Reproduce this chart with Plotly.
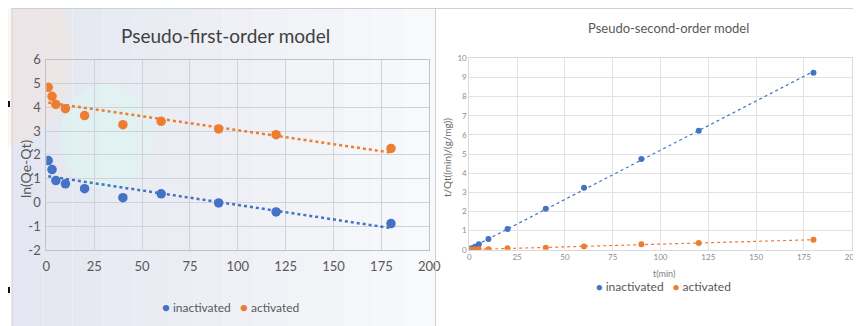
import numpy as np
import plotly.graph_objects as go

# ---- data ----
t_min = [1, 3, 5, 10, 20, 40, 60, 90, 120, 180]
ln_inactivated = [1.76, 1.38, 0.92, 0.78, 0.58, 0.20, 0.36, -0.02, -0.40, -0.89]
ln_activated = [4.84, 4.46, 4.12, 3.94, 3.65, 3.27, 3.41, 3.09, 2.85, 2.27]
tq_inactivated = [0.07, 0.16, 0.28, 0.56, 1.08, 2.14, 3.24, 4.74, 6.22, 9.25]
tq_activated = [0.01, 0.02, 0.02, 0.03, 0.07, 0.10, 0.17, 0.28, 0.35, 0.52]
x_ticks = [0, 25, 50, 75, 100, 125, 150, 175, 200]
ln_ticks = [-2, -1, 0, 1, 2, 3, 4, 5, 6]
ln_tick_labels = ["-2", "-1", "0", "1", "2", "3", "4", "5", "6"]
series_names = ["inactivated", "activated"]

BLUE = "#4472C4"
ORANGE = "#ED7D31"
PAGE_OFF = 8              # browser body margin
W, H = 861 - PAGE_OFF, 326 - PAGE_OFF
CAL = "Lato, Carlito, Calibri, sans-serif"
SANS = "Lato, Liberation Sans, Arial, sans-serif"


def px(x):
    return (x - PAGE_OFF) / W


def py(y):
    return 1 - (y - PAGE_OFF) / H


def trend(x, y):
    k, b = np.polyfit(x, y, 1)
    xs = np.array([min(x), max(x)], dtype=float)
    return xs, k * xs + b


fig = go.Figure()

# left panel
for name, ys, col in [(series_names[0], ln_inactivated, BLUE), (series_names[1], ln_activated, ORANGE)]:
    tx, ty = trend(t_min, ys)
    fig.add_trace(go.Scatter(x=tx, y=ty, mode="lines", line=dict(color=col, width=2.5, dash="dot"),
                             showlegend=False, xaxis="x", yaxis="y", hoverinfo="skip"))
    fig.add_trace(go.Scatter(x=t_min, y=ys, mode="markers", name=name, showlegend=False,
                             marker=dict(color=col, size=9.5), xaxis="x", yaxis="y"))

# right panel
for name, ys, col in [(series_names[0], tq_inactivated, BLUE), (series_names[1], tq_activated, ORANGE)]:
    tx, ty = trend(t_min, ys)
    fig.add_trace(go.Scatter(x=tx, y=ty, mode="lines", line=dict(color=col, width=1.2, dash="dot"),
                             showlegend=False, xaxis="x2", yaxis="y2", hoverinfo="skip"))
    fig.add_trace(go.Scatter(x=t_min, y=ys, mode="markers", name=name, showlegend=False,
                             marker=dict(color=col, size=6), xaxis="x2", yaxis="y2"))

# background shapes (panel tint / borders)
shapes = []
n = 14
x0, x1 = 12, 435
c0 = np.array([0xe4, 0xe7, 0xf1])
c1 = np.array([0xf8, 0xf9, 0xfb])
for i in range(n):
    f = i / (n - 1)
    c = (c0 * (1 - f) + c1 * f).astype(int)
    shapes.append(dict(type="rect", xref="paper", yref="paper", layer="below",
                       x0=px(x0 + (x1 - x0) * i / n), x1=px(x0 + (x1 - x0) * (i + 1) / n),
                       y0=py(326), y1=py(6), line=dict(width=0),
                       fillcolor="rgb(%d,%d,%d)" % tuple(c)))
shapes.append(dict(type="circle", xref="paper", yref="paper", layer="below",
                   x0=px(-90), x1=px(72), y0=py(150), y1=py(-40), line=dict(width=0),
                   fillcolor="rgba(250,225,212,0.35)"))
shapes.append(dict(type="circle", xref="paper", yref="paper", layer="below",
                   x0=px(60), x1=px(152), y0=py(190), y1=py(84), line=dict(width=0),
                   fillcolor="rgba(220,245,240,0.55)"))
shapes.append(dict(type="line", xref="paper", yref="paper", x0=px(12), x1=px(861), y0=py(8.5), y1=py(8.5),
                   line=dict(color="#d0d0d0", width=1)))
shapes.append(dict(type="line", xref="paper", yref="paper", x0=px(12), x1=px(12), y0=py(8), y1=py(326),
                   line=dict(color="#d0d0d0", width=1)))
shapes.append(dict(type="line", xref="paper", yref="paper", x0=px(435.5), x1=px(435.5), y0=py(8), y1=py(326),
                   line=dict(color="#d0d0d0", width=1)))
for yy in [104, 290]:
    shapes.append(dict(type="rect", xref="paper", yref="paper", x0=px(8), x1=px(10), y0=py(yy + 3), y1=py(yy - 3),
                       line=dict(width=0), fillcolor="#111111"))


def legend_text(dot_size):
    return ("<span style='color:%s;font-size:%dpx'>●</span>&nbsp;%s&nbsp;&nbsp;&nbsp;"
            "<span style='color:%s;font-size:%dpx'>●</span>&nbsp;%s") % (
        BLUE, dot_size, series_names[0], ORANGE, dot_size, series_names[1])


def ann(text, x, y, size, color, family=CAL, angle=0):
    return dict(text=text, x=px(x), y=py(y), xref="paper", yref="paper", xanchor="center",
                yanchor="middle", showarrow=False, textangle=angle,
                font=dict(family=family, size=size, color=color))


annotations = [
    ann("Pseudo-first-order model", 225, 36, 19, "#404040"),
    ann("ln(Qe-Qt)", 25, 169, 14, "#595959", angle=-90),
    ann(legend_text(13), 230, 307, 12, "#595959"),
    ann("Pseudo-second-order model", 668, 28, 13, "#595959"),
    ann("t/Qt((min)/(g/mg))", 447, 158, 10, "#6a6a6a", family=SANS, angle=-90),
    ann("t(min)", 664, 273, 9, "#808080", family=SANS),
    ann(legend_text(11), 663, 286, 12, "#595959"),
]

axis_left = dict(showgrid=True, gridcolor="#cfd2d8", gridwidth=1, zeroline=False, showline=True,
                 linecolor="#bfc2c8", mirror=True, ticks="", automargin=False,
                 tickfont=dict(family=CAL, size=13, color="#595959"))
axis_right = dict(showgrid=True, gridcolor="#e3e3e3", gridwidth=1, zeroline=False, showline=True,
                  linecolor="#d9d9d9", mirror=True, ticks="", automargin=False,
                  tickfont=dict(family=SANS, size=8, color="#8c8c8c"))

fig.update_layout(
    width=W, height=H,
    margin=dict(l=0, r=0, t=0, b=0),
    paper_bgcolor="white",
    plot_bgcolor="rgba(0,0,0,0)",
    showlegend=False,
    shapes=shapes,
    annotations=annotations,
    xaxis=dict(axis_left, domain=[px(46.3), px(429.3)], range=[0, 200], tickvals=x_ticks, anchor="y",
               ticklabelstandoff=4),
    yaxis=dict(axis_left, domain=[py(250), py(59.7)], range=[-2, 6], tickvals=ln_ticks,
               ticktext=ln_tick_labels, anchor="x", ticklabelstandoff=2),
    xaxis2=dict(axis_right, domain=[px(469.3), px(851.7)], range=[0, 200], tickvals=x_ticks, anchor="y2"),
    yaxis2=dict(axis_right, domain=[py(249.7), py(58.3)], range=[0, 10], dtick=1, anchor="x2"),
)

fig.write_html("out.html")
